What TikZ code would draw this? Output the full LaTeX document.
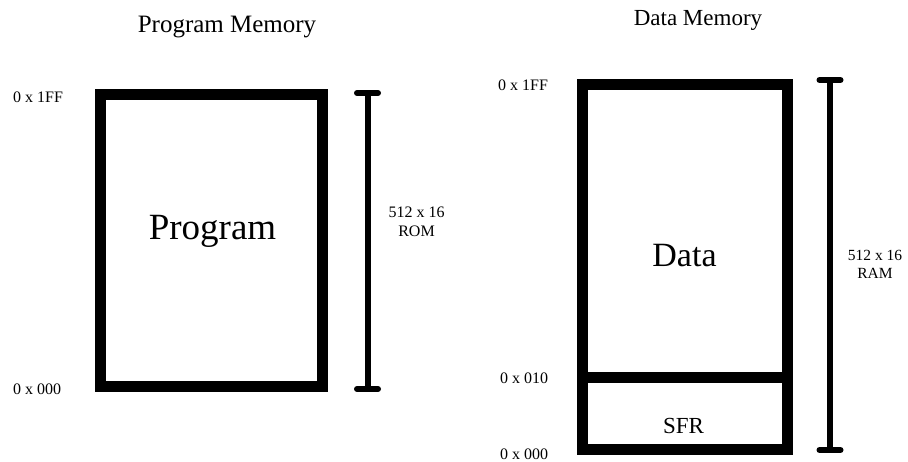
\documentclass[tikz,border=0pt]{standalone}
\usepackage{fontspec}
\setmainfont{Liberation Serif}
\usetikzlibrary{positioning,arrows.meta}

\begin{document}
\begin{tikzpicture}[%
    x=1pt,
    y=-1pt,
    memblock/.style={%
      rectangle,
      draw,
      line width=11pt,
      inner sep=0pt
    },
    bigname/.style={anchor=base, inner sep=0pt, font=\fontsize{37}{40}\selectfont},
    addr/.style={anchor=base west, inner sep=0pt, font=\fontsize{16}{18}\selectfont},
    memtitle/.style={anchor=base, inner sep=0pt},
    sizelbl/.style={align=center, inner sep=0pt},
    sizebar/.style={%
      line width=6pt,
      {Bar[width=21pt,round]}-{Bar[width=21pt,round]}
    }
  ]
    \useasboundingbox (0,0) rectangle (908,461);

    % program memory
    \node[memtitle, font=\fontsize{25}{28}\selectfont] (progtitle) at (227,32) {Program Memory};
    \node[memblock, minimum width=222pt, minimum height=292pt] (prog) at (211.5,240.5) {};
    \node[bigname] (progname) at (212.5,239) {Program};
    \node[addr] (progtop) at (13,102) {0 x 1FF};
    \node[addr] (progbot) at (13,394) {0 x 000};

    \coordinate (romtop) at (367.5,90);
    \coordinate (rombot) at (367.5,392);
    \draw[sizebar] (romtop) -- (rombot);
    \node[sizelbl, font=\fontsize{16}{19}\selectfont] (romsize) at (416.5,222) {512 x 16\\ROM};

    % data memory
    \node[memtitle, font=\fontsize{23}{26}\selectfont] (datatitle) at (698,25) {Data Memory};
    \node[memblock, minimum width=205pt, minimum height=293pt] (data) at (685,231) {};
    \node[memblock, minimum width=205pt, minimum height=72pt] (sfr) at (685,413.5) {};
    \node[bigname, font=\fontsize{34}{37}\selectfont] (dataname) at (684.5,266) {Data};
    \node[bigname, font=\fontsize{23}{26}\selectfont] (sfrname) at (683.5,433) {SFR};
    \node[addr] (datatop) at (498,90) {0 x 1FF};
    \node[addr] (datamid) at (500,383) {0 x 010};
    \node[addr] (databot) at (500,459) {0 x 000};

    \coordinate (ramtop) at (830,77);
    \coordinate (rambot) at (830,453);
    \draw[sizebar] (ramtop) -- (rambot);
    \node[sizelbl, font=\fontsize{15.5}{18}\selectfont] (ramsize) at (875,264) {512 x 16\\RAM};
  \end{tikzpicture}
\end{document}
